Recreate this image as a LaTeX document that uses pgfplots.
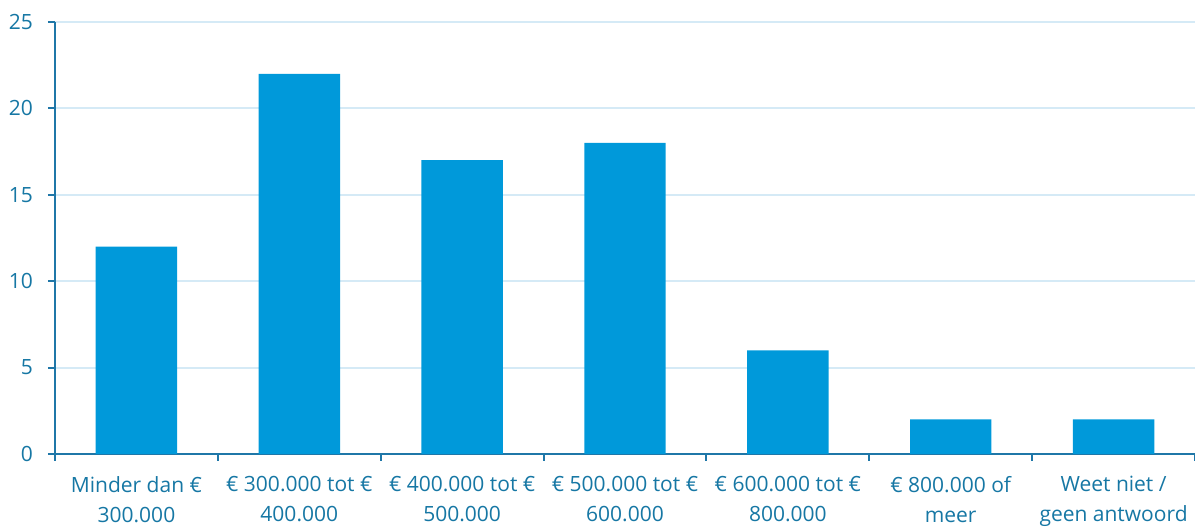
\documentclass[border=0pt]{standalone}
\usepackage{fontspec}
\setmainfont{Open Sans}
\usepackage{pgfplots}
\pgfplotsset{compat=1.18}
\definecolor{barblue}{HTML}{0099DA}
\definecolor{axisblue}{HTML}{1F77A8}
\definecolor{textblue}{HTML}{1677A4}
\definecolor{gridblue}{HTML}{D5EAF6}
\begin{document}
\begin{tikzpicture}
\useasboundingbox (-27.5pt,-37pt) rectangle (570pt,227pt);
\begin{axis}[
  at={(0,0)}, anchor=south west,
  scale only axis,
  width=570pt, height=216pt,
  ybar, bar width=0.5, bar shift=0pt,
  xmin=-0.5, xmax=6.5,
  ymin=0, ymax=25,
  ytick={0,5,10,15,20,25},
  xtick={0,1,2,3,4,5,6},
  minor xtick={-0.5,0.5,1.5,2.5,3.5,4.5,5.5,6.5},
  xticklabels={{Minder dan €\\300.000},{€ 300.000 tot €\\400.000},{€ 400.000 tot €\\500.000},{€ 500.000 tot €\\600.000},{€ 600.000 tot €\\800.000},{€ 800.000 of\\meer},{Weet niet /\\geen antwoord}},
  axis x line*=bottom, axis y line*=left,
  axis line style={-, draw=axisblue, line width=1pt},
  tick align=outside,
  major tick length=3.5pt, minor tick length=3.5pt,
  tick style={draw=axisblue, line width=1pt},
  major x tick style={draw=none},
  ymajorgrids,
  major grid style={draw=gridblue, line width=1pt},
  /pgf/number format/assume math mode=true,
  ticklabel style={font=\fontsize{10.5}{15}\selectfont, text=textblue},
  xticklabel style={align=center, yshift=-4pt},
  yticklabel style={xshift=-4pt},
]
\addplot[fill=barblue, draw=none] coordinates {(0,12) (1,22) (2,17) (3,18) (4,6) (5,2) (6,2)};
\end{axis}
\end{tikzpicture}
\end{document}
